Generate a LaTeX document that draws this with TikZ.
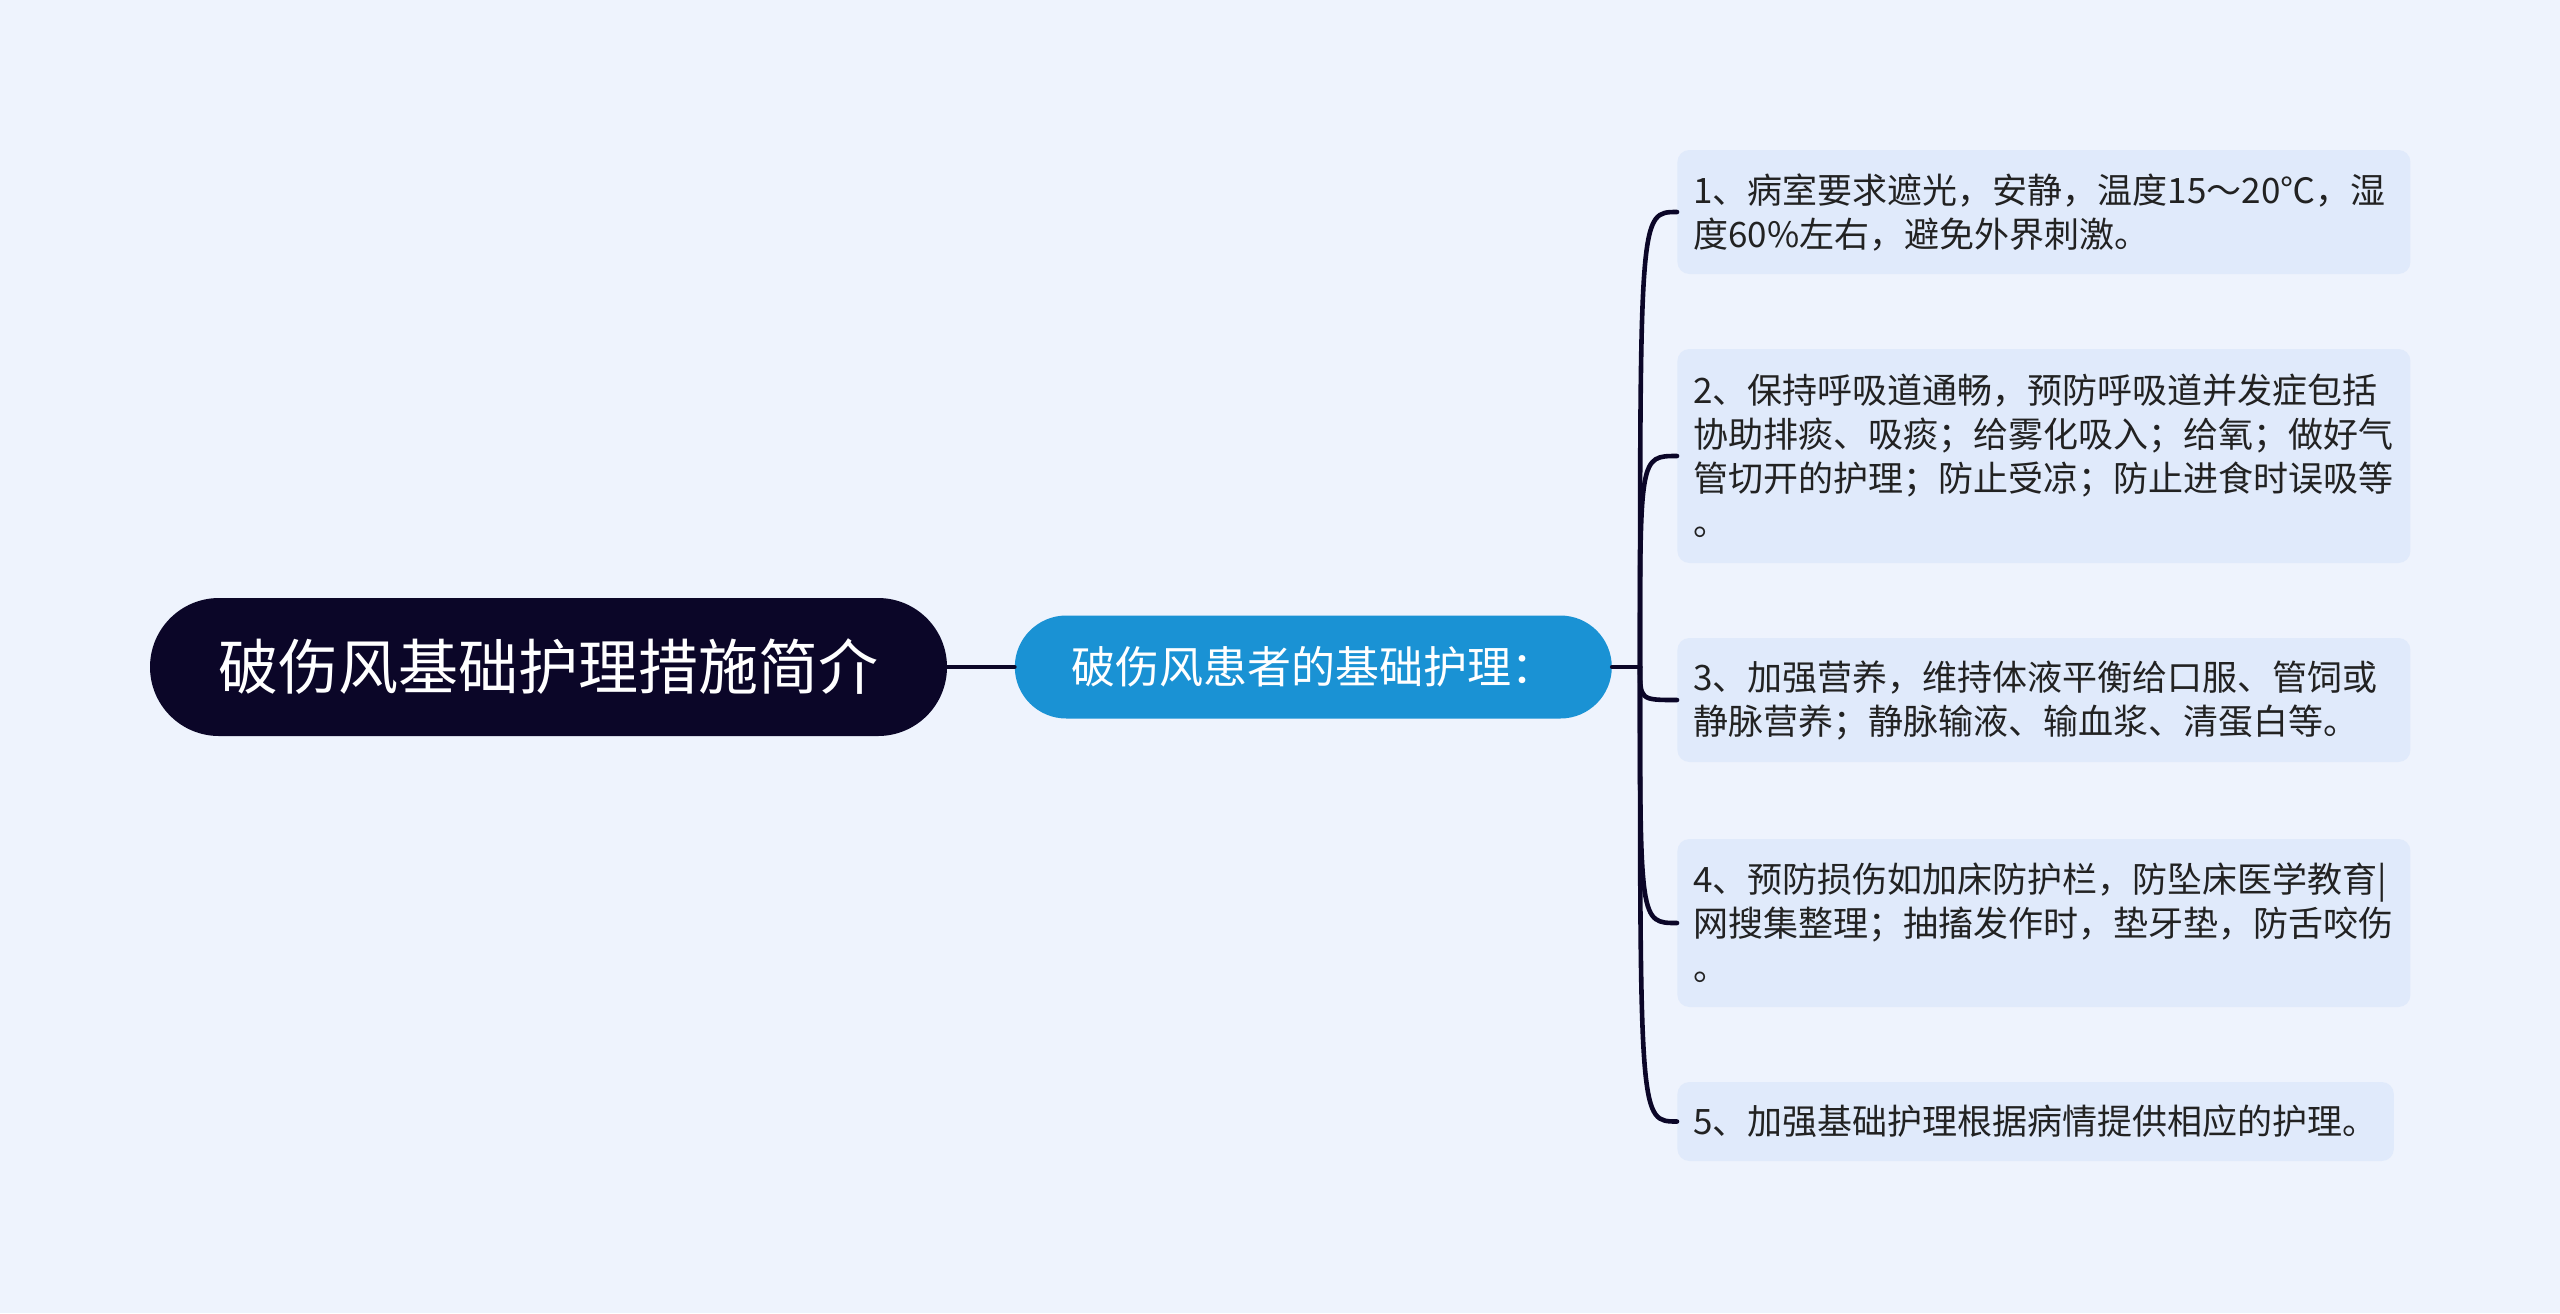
\documentclass[tikz,border=0pt]{standalone}
\usepackage{fontspec}
\setmainfont{Noto Sans CJK SC}
\usetikzlibrary{positioning}
\definecolor{bgblue}{RGB}{238,243,253}
\definecolor{rootnavy}{RGB}{11,6,40}
\definecolor{subblue}{RGB}{26,146,212}
\definecolor{leaffill}{RGB}{224,234,251}
\definecolor{leaftext}{RGB}{34,34,34}
\tikzset{
    rootbox/.style={rectangle, fill=rootnavy, text=white, rounded corners=34.5pt, minimum width=398.5pt, minimum height=69pt, font=\fontsize{30pt}{36pt}\selectfont},
    subbox/.style={rectangle, fill=subblue, text=white, rounded corners=25.75pt, minimum width=298.5pt, minimum height=51.5pt, font=\fontsize{22pt}{26pt}\selectfont},
    leafbox/.style={rectangle, fill=leaffill, text=leaftext, rounded corners=6pt, anchor=west, align=left, inner xsep=8pt, font=\fontsize{17.5pt}{22pt}\selectfont},
    wide/.style={text width=350.5pt},
    link/.style={draw=rootnavy, line width=2.3pt, line cap=round},
}
\begin{document}
\begin{tikzpicture}[x=0.5pt, y=-0.5pt]
    \fill[bgblue] (0,0) rectangle (2560,1313);
    % main topic and its branch
    \node[rootbox] (root) at (548.5,667) {破伤风基础护理措施简介};
    \node[subbox, right=33.5pt of root] (care) {破伤风患者的基础护理：};
    \coordinate (fork) at (1640,667);
    % leaves
    \node[leafbox, wide, minimum height=62pt] (l1) at (1677,212) {1、病室要求遮光，安静，温度15～20℃，湿\\度60\%左右，避免外界刺激。};
    \node[leafbox, wide, minimum height=107pt] (l2) at (1677,456) {2、保持呼吸道通畅，预防呼吸道并发症包括\\协助排痰、吸痰；给雾化吸入；给氧；做好气\\管切开的护理；防止受凉；防止进食时误吸等\\。};
    \node[leafbox, wide, minimum height=62pt] (l3) at (1677,700) {3、加强营养，维持体液平衡给口服、管饲或\\静脉营养；静脉输液、输血浆、清蛋白等。};
    \node[leafbox, wide, minimum height=84pt] (l4) at (1677,923) {4、预防损伤如加床防护栏，防坠床医学教育|\\网搜集整理；抽搐发作时，垫牙垫，防舌咬伤\\。};
    \node[leafbox, minimum height=39.5pt] (l5) at (1677,1121.5) {5、加强基础护理根据病情提供相应的护理。};
    % connectors
    \draw[link] (root) -- (care);
    \draw[link] (care) -- (fork);
    \foreach \n in {l1,l2,l3,l4,l5}
        \draw[link] (fork) .. controls (fork |- \n.west) .. (\n.west);
\end{tikzpicture}
\end{document}
